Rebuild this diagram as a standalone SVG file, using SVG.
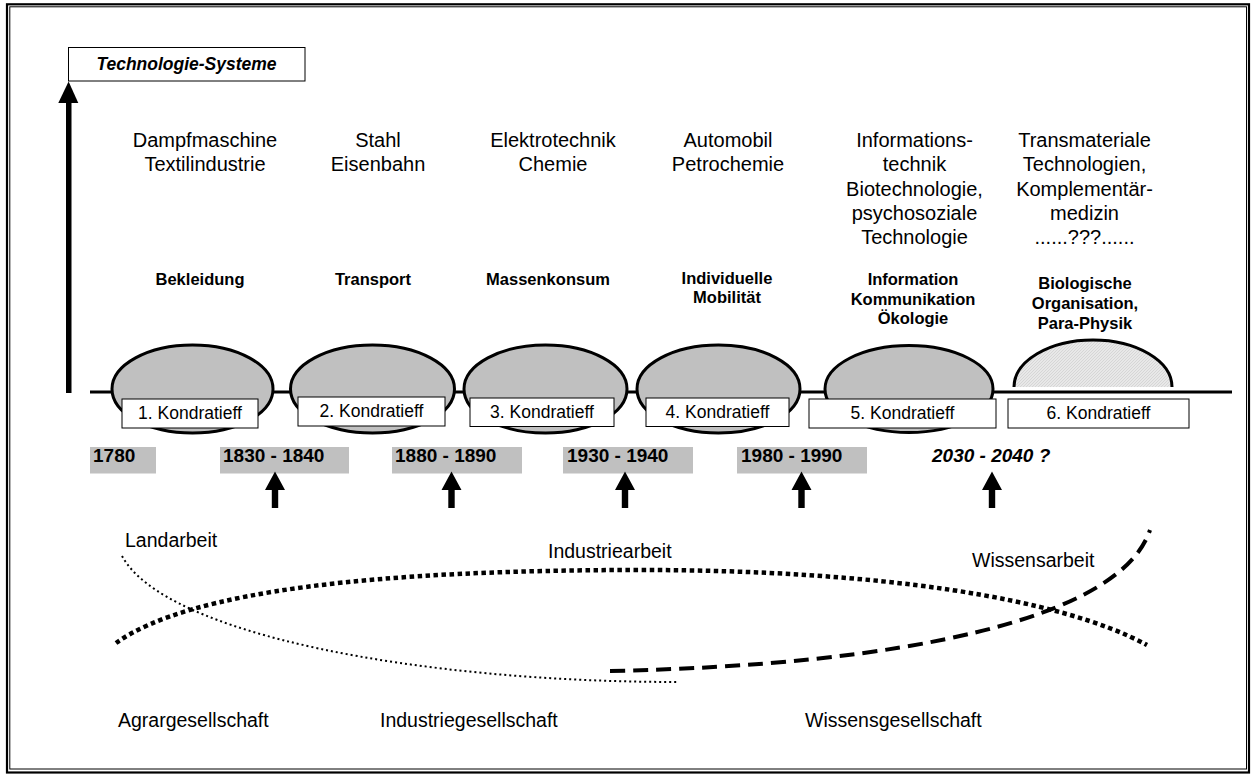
<svg xmlns="http://www.w3.org/2000/svg" width="1251" height="776" viewBox="0 0 1251 776">
  <defs>
    <style>
      text { font-family: "Liberation Sans", Arial, sans-serif; fill: #000; }
      .tech { font-size: 20px; text-anchor: middle; }
      .cat { font-size: 16.5px; font-weight: bold; text-anchor: middle; }
      .kond { font-size: 17.5px; text-anchor: middle; }
      .year { font-size: 19px; font-weight: bold; }
      .work { font-size: 19.5px; }
      .wave { fill: #c0c0c0; stroke: #000; stroke-width: 3; }
      .kbox { fill: #fff; stroke: #000; stroke-width: 1; }
      .ybox { fill: #c0c0c0; }
    </style>
    <pattern id="hatch" width="3" height="3" patternUnits="userSpaceOnUse">
      <rect width="3" height="3" fill="#e8e8e8"/>
      <path d="M0,3 L3,0" stroke="#d2d2d2" stroke-width="0.8"/>
    </pattern>
  </defs>

  <rect width="1251" height="776" fill="#fff"/>

  <!-- double page frame -->
  <rect x="7" y="4.3" width="1242" height="768.2" fill="none" stroke="#000" stroke-width="2.2"/>
  <rect x="9.8" y="6.8" width="1236.7" height="762.2" fill="none" stroke="#000" stroke-width="1"/>

  <!-- vertical axis and time line -->
  <g id="axis">
    <rect x="66" y="101" width="5.5" height="292" fill="#000"/>
    <polygon points="68.6,81.5 58.3,103 78.3,103" fill="#000"/>
    <line x1="90" y1="392" x2="1232" y2="392" stroke="#000" stroke-width="3"/>
  </g>

  <g id="axis-label">
    <rect x="68.5" y="47.5" width="236.5" height="33.5" fill="#fff" stroke="#000" stroke-width="1"/>
    <text x="186.5" y="70" style="font-size:17.5px;font-weight:bold;font-style:italic" text-anchor="middle">Technologie-Systeme</text>
  </g>

  <!-- technology descriptions -->
  <g id="tech-1"><text class="tech" x="205" y="147">Dampfmaschine</text><text class="tech" x="205" y="171">Textilindustrie</text></g>
  <g id="tech-2"><text class="tech" x="378" y="147">Stahl</text><text class="tech" x="378" y="171">Eisenbahn</text></g>
  <g id="tech-3"><text class="tech" x="553" y="147">Elektrotechnik</text><text class="tech" x="553" y="171">Chemie</text></g>
  <g id="tech-4"><text class="tech" x="728" y="147">Automobil</text><text class="tech" x="728" y="171">Petrochemie</text></g>
  <g id="tech-5">
    <text class="tech" x="914.5" y="147">Informations-</text>
    <text class="tech" x="914.5" y="171">technik</text>
    <text class="tech" x="914.5" y="195.5">Biotechnologie,</text>
    <text class="tech" x="914.5" y="220">psychosoziale</text>
    <text class="tech" x="914.5" y="244">Technologie</text>
  </g>
  <g id="tech-6">
    <text class="tech" x="1084.5" y="147">Transmateriale</text>
    <text class="tech" x="1084.5" y="171">Technologien,</text>
    <text class="tech" x="1084.5" y="195.5">Komplementär-</text>
    <text class="tech" x="1084.5" y="220">medizin</text>
    <text class="tech" x="1084.5" y="244">......???......</text>
  </g>

  <!-- demand fields -->
  <g id="field-1"><text class="cat" x="200" y="285">Bekleidung</text></g>
  <g id="field-2"><text class="cat" x="373" y="285">Transport</text></g>
  <g id="field-3"><text class="cat" x="548" y="285">Massenkonsum</text></g>
  <g id="field-4"><text class="cat" x="727" y="284">Individuelle</text><text class="cat" x="727" y="303">Mobilität</text></g>
  <g id="field-5"><text class="cat" x="913" y="285">Information</text><text class="cat" x="913" y="304.5">Kommunikation</text><text class="cat" x="913" y="324">Ökologie</text></g>
  <g id="field-6"><text class="cat" x="1085" y="289">Biologische</text><text class="cat" x="1085" y="309">Organisation,</text><text class="cat" x="1085" y="329">Para-Physik</text></g>

  <!-- long waves -->
  <g id="wave-1"><ellipse class="wave" cx="192.5" cy="389" rx="80.5" ry="44"/><rect class="kbox" x="122" y="399" width="136" height="29"/><text class="kond" x="190" y="419">1. Kondratieff</text></g>
  <g id="wave-2"><ellipse class="wave" cx="372.5" cy="389" rx="82" ry="44"/><rect class="kbox" x="298" y="397" width="147" height="29"/><text class="kond" x="371.5" y="417">2. Kondratieff</text></g>
  <g id="wave-3"><ellipse class="wave" cx="545.5" cy="389" rx="81.5" ry="44"/><rect class="kbox" x="470" y="398" width="144" height="28.5"/><text class="kond" x="542" y="418">3. Kondratieff</text></g>
  <g id="wave-4"><ellipse class="wave" cx="718.5" cy="389" rx="81.5" ry="44"/><rect class="kbox" x="646" y="398" width="143" height="28.5"/><text class="kond" x="717.5" y="418">4. Kondratieff</text></g>
  <g id="wave-5"><ellipse class="wave" cx="909" cy="389" rx="84" ry="43.5"/><rect class="kbox" x="809" y="399" width="187" height="29"/><text class="kond" x="902.5" y="419">5. Kondratieff</text></g>
  <g id="wave-6">
    <path d="M1014,387 A79,47 0 0 1 1172,387" fill="url(#hatch)" stroke="#000" stroke-width="3"/>
    <rect class="kbox" x="1008" y="399" width="181" height="29"/>
    <text class="kond" x="1098.5" y="419">6. Kondratieff</text>
  </g>

  <!-- dates -->
  <g id="date-1780"><rect class="ybox" x="90" y="447" width="66" height="26.5"/><text class="year" x="93" y="462">1780</text></g>
  <g id="date-1830"><rect class="ybox" x="220" y="447" width="129" height="26.5"/><text class="year" x="223" y="462">1830 - 1840</text></g>
  <g id="date-1880"><rect class="ybox" x="392" y="447" width="130" height="26.5"/><text class="year" x="395" y="462">1880 - 1890</text></g>
  <g id="date-1930"><rect class="ybox" x="563" y="447" width="130" height="26.5"/><text class="year" x="567" y="462">1930 - 1940</text></g>
  <g id="date-1980"><rect class="ybox" x="737" y="447" width="130" height="26.5"/><text class="year" x="741" y="462">1980 - 1990</text></g>
  <g id="date-2030"><text class="year" x="932" y="462" font-style="italic">2030 - 2040 ?</text></g>

  <!-- turning-point markers -->
  <g id="markers" fill="#000">
    <path d="M275,471.5 L285,490 L278.2,490 L278.2,508 L271.8,508 L271.8,490 L265,490 Z"/>
    <path d="M451.5,471.5 L461.5,490 L454.7,490 L454.7,508 L448.3,508 L448.3,490 L441.5,490 Z"/>
    <path d="M625,471.5 L635,490 L628.2,490 L628.2,508 L621.8,508 L621.8,490 L615,490 Z"/>
    <path d="M801.5,471.5 L811.5,490 L804.7,490 L804.7,508 L798.3,508 L798.3,490 L791.5,490 Z"/>
    <path d="M992,471.5 L1002,490 L995.2,490 L995.2,508 L988.8,508 L988.8,490 L982,490 Z"/>
  </g>

  <!-- labour curves -->
  <g id="connectors" fill="none" stroke="#000">
    <path d="M122,556 C165,635 420,682 678,682" stroke-width="2" stroke-dasharray="2,3"/>
    <path d="M116,643 C190,590 380,570 640,570 C880,570 1060,598 1147,645" stroke-width="4.5" stroke-dasharray="4.5,3.5"/>
    <path d="M610,671 C900,665 1120,620 1150,530" stroke-width="4" stroke-dasharray="15,8"/>
  </g>

  <g id="labour-labels">
    <text class="work" x="125" y="547">Landarbeit</text>
    <text class="work" x="548" y="558">Industriearbeit</text>
    <text class="work" x="972" y="567">Wissensarbeit</text>
  </g>
  <g id="society-labels">
    <text class="work" x="118" y="727">Agrargesellschaft</text>
    <text class="work" x="380" y="727">Industriegesellschaft</text>
    <text class="work" x="805" y="727">Wissensgesellschaft</text>
  </g>
</svg>
